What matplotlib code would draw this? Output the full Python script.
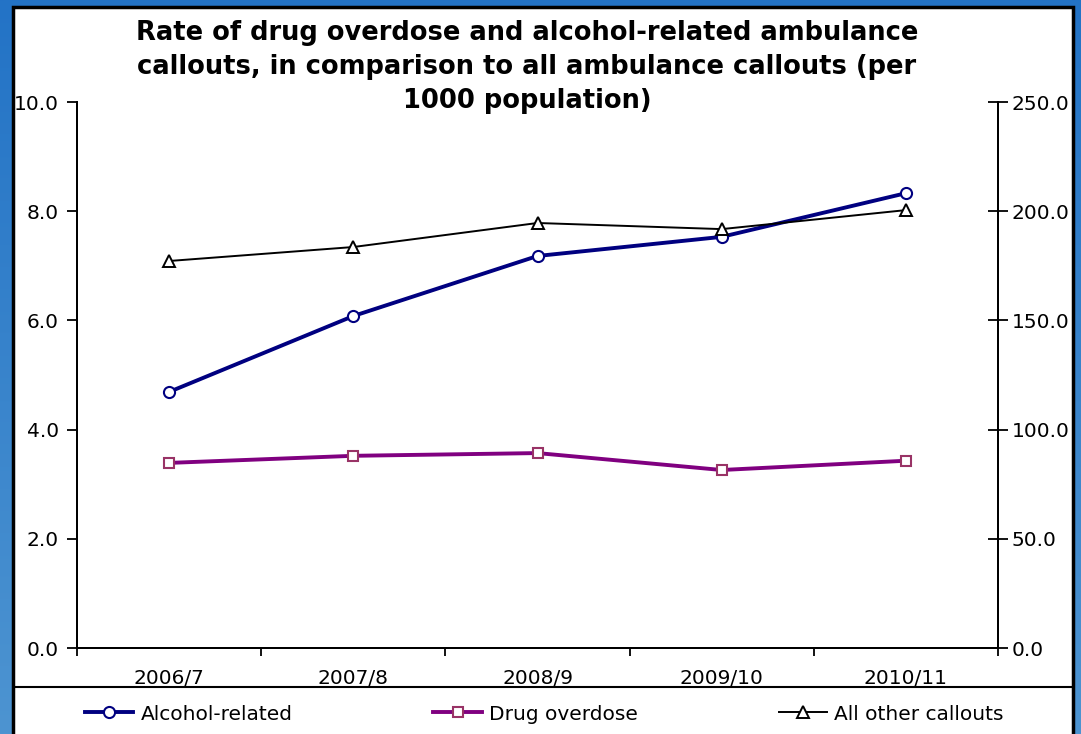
import matplotlib
matplotlib.use("Agg")
import matplotlib.pyplot as plt
import numpy as np
from matplotlib.patches import Rectangle
from matplotlib.lines import Line2D
from matplotlib.colors import LinearSegmentedColormap

# Data (rate per 1000 population)
years = ["2006/7", "2007/8", "2008/9", "2009/10", "2010/11"]
alcohol_related = [4.69, 6.08, 7.18, 7.53, 8.33]
drug_overdose = [3.39, 3.52, 3.57, 3.26, 3.43]
all_other_callouts = [177.2, 183.6, 194.6, 191.8, 200.5]

left_ticks = [0, 2, 4, 6, 8, 10]
right_ticks = [0, 50, 100, 150, 200, 250]

W, H = 1081, 734
fig = plt.figure(figsize=(W / 100, H / 100), dpi=100)

# Blue gradient backdrop
bg = fig.add_axes([0, 0, 1, 1], zorder=-10)
bg.axis("off")
grad = LinearSegmentedColormap.from_list("bg", ["#2373c6", "#4d94d1"])
bg.imshow(np.linspace(0, 1, 256).reshape(-1, 1), aspect="auto", cmap=grad,
          extent=[0, 1, 0, 1], origin="upper")
bg.set_xlim(0, 1)
bg.set_ylim(0, 1)

# White chart panel with black border
bg.add_patch(Rectangle((13 / W, -0.01), (1073 - 13) / W, (H - 7) / H + 0.01,
                       facecolor="white", edgecolor="black", linewidth=2.5, zorder=2))
# Legend separator line
bg.add_line(Line2D([14 / W, 1072 / W], [1 - 687 / H, 1 - 687 / H],
                   color="black", linewidth=1.5, zorder=3))

left, right, top, bottom = 77, 998, 102, 648
ax = fig.add_axes([left / W, 1 - bottom / H, (right - left) / W, (bottom - top) / H])
ax.set_facecolor("none")
ax2 = ax.twinx()
ax2.set_facecolor("none")

x = list(range(len(years)))
ax.plot(x, alcohol_related, color="#000080", linewidth=2.8, marker="o", markersize=8,
        markerfacecolor="white", markeredgecolor="#000080", markeredgewidth=1.5,
        label="Alcohol-related", zorder=3)
ax.plot(x, drug_overdose, color="#800080", linewidth=2.8, marker="s", markersize=7.5,
        markerfacecolor="white", markeredgecolor="#993366", markeredgewidth=1.5,
        label="Drug overdose", zorder=3)
ax2.plot(x, all_other_callouts, color="black", linewidth=1.4, marker="^", markersize=9,
         markerfacecolor="white", markeredgecolor="black", markeredgewidth=1.4,
         label="All other callouts", zorder=3)

ax.set_xlim(-0.5, len(years) - 0.5)
ax.set_ylim(0, 10)
ax2.set_ylim(0, 250)

ax.set_xticks(x)
ax.set_xticklabels(years)
ax.set_xticks([i - 0.5 for i in range(len(years) + 1)], minor=True)
ax.tick_params(axis="x", which="major", length=0, pad=15, labelsize=14.5)
ax.tick_params(axis="x", which="minor", length=6, width=1.3, direction="out")

ax.set_yticks(left_ticks)
ax.set_yticklabels([f"{v:.1f}" for v in left_ticks])
ax.tick_params(axis="y", length=7, width=1.3, direction="out", labelsize=14.5, pad=6)

ax2.set_yticks(right_ticks)
ax2.set_yticklabels([f"{v:.1f}" for v in right_ticks])
ax2.tick_params(axis="y", length=14, width=1.3, direction="inout", labelsize=14.5, pad=3)

for a in (ax, ax2):
    a.spines["top"].set_visible(False)
    for s in ("left", "right", "bottom"):
        a.spines[s].set_linewidth(1.4)

fig.text(527 / W, 1 - 67 / H,
         "Rate of drug overdose and alcohol-related ambulance\n"
         "callouts, in comparison to all ambulance callouts (per\n"
         "1000 population)",
         ha="center", va="center", fontsize=18.5, fontweight="bold", linespacing=1.42)

handles = ax.get_lines() + ax2.get_lines()
fig.legend(handles, [h.get_label() for h in handles], loc="center left",
           bbox_to_anchor=(85 / W, 1 - 714 / H), ncol=3, frameon=False,
           fontsize=14.5, columnspacing=7.0, handlelength=2.4, handletextpad=0.35,
           borderaxespad=0, borderpad=0)

fig.savefig("out.png", dpi=100)
